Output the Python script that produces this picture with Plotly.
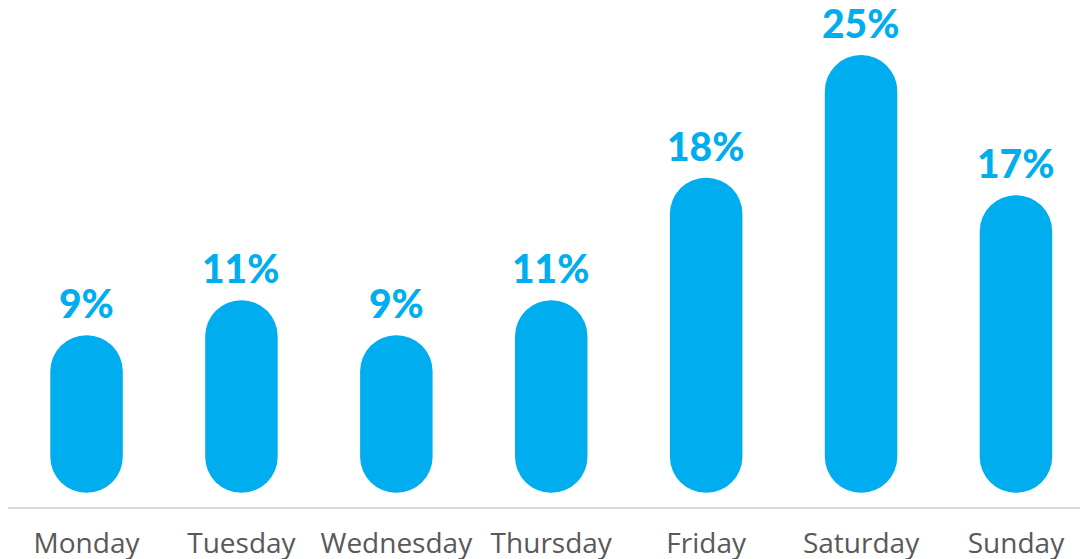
import plotly.graph_objects as go

days = ["Monday", "Tuesday", "Wednesday", "Thursday", "Friday", "Saturday", "Sunday"]
shares = [9, 11, 9, 11, 18, 25, 17]
labels = ["9%", "11%", "9%", "11%", "18%", "25%", "17%"]

BLUE = "#00AEEF"
BAR_W = 0.468

fig = go.Figure()
fig.add_trace(go.Bar(
    x=days, y=shares, base=[0] * len(shares),
    marker=dict(color=BLUE, cornerradius="50%", line=dict(width=0)),
    width=BAR_W, hoverinfo="skip", showlegend=False,
))

for d, v, t in zip(days, shares, labels):
    fig.add_annotation(
        x=d, y=v, text=t, showarrow=False, yanchor="bottom", yshift=7,
        font=dict(family="Lato", size=39, color=BLUE, weight=900),
    )

fig.update_layout(
    width=1080, height=551,
    margin=dict(l=0, r=0, t=0, b=52),
    plot_bgcolor="white", paper_bgcolor="white",
    xaxis=dict(
        range=[-0.507, 6.465], showgrid=False, zeroline=False,
        showline=True, linecolor="#D9D9D9", linewidth=2,
        ticks="", tickfont=dict(family="Open Sans", size=28, color="#595959"),
        ticklabelstandoff=10, automargin=False,
    ),
    yaxis=dict(range=[-0.81, 27.69], visible=False, showgrid=False, zeroline=False),
)

fig.write_html("out.html")
